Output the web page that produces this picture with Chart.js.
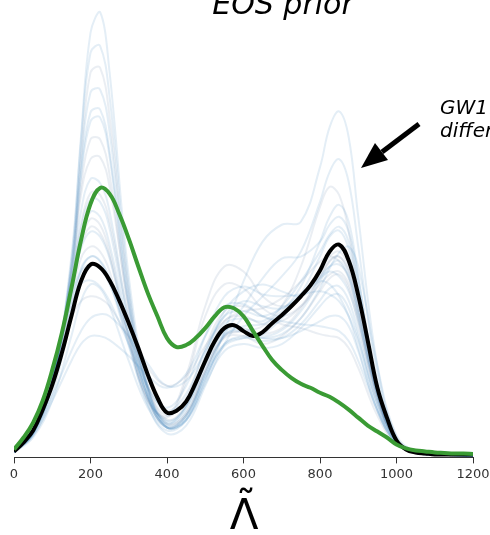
<!DOCTYPE html>
<html>
<head>
<meta charset="utf-8">
<script src="https://cdn.jsdelivr.net/npm/chart.js@4/dist/chart.umd.min.js"></script>
<style>
  html, body { margin: 0; padding: 0; background: #fff; }
  canvas { display: block; }
</style>
</head>
<body>
<canvas id="eosPrior" width="490" height="535"></canvas>
<script>
// Lambda-tilde grid for the two highlighted curves (step 25)
const lambdaFine = [0, 25, 50, 75, 100, 125, 150, 175, 200, 225, 250, 275, 300, 325, 350, 375, 400, 425, 450, 475,
  500, 525, 550, 575, 600, 625, 650, 675, 700, 725, 750, 775, 800, 825, 850, 875, 900, 925, 950, 975,
  1000, 1025, 1050, 1075, 1100, 1125, 1150, 1175, 1200];

// density of the highlighted curves (arbitrary units)
const blackCurve = [4, 13, 25, 46, 71, 103, 140, 175, 192, 189, 176, 156, 133, 108, 81, 58, 43, 45, 54, 73,
  95, 115, 128, 131, 125, 120, 124, 133, 141, 150, 160, 171, 186, 205, 212, 196, 161, 115, 68, 38,
  15, 6, 3, 2, 1, 1, 1, 1, 1];
const greenCurve = [6, 18, 33, 55, 86, 123, 168, 216, 253, 269, 263, 243, 218, 190, 163, 140, 118, 109, 111, 118,
  128, 140, 149, 148, 140, 125, 110, 96, 86, 78, 72, 68, 63, 59, 53, 46, 38, 30, 24, 18,
  11, 7, 5, 4, 3, 2.5, 2, 2, 1.5];

// grid for the faint prior draws
const lambdaGrid = [0, 50, 100, 150, 175, 200, 225, 250, 300, 350, 400, 450, 500, 550, 600, 650, 700, 750,
  800, 825, 850, 875, 900, 950, 1000, 1050, 1100, 1200];

// individual EOS draws
const draw01 = [3, 22, 72, 200, 320, 425, 446, 385, 180, 70, 28, 35, 72, 105, 112, 108, 112, 128, 150, 160, 162, 148, 118, 48, 12, 3, 1, 0];
const draw02 = [3, 22, 74, 195, 315, 405, 412, 360, 170, 66, 30, 40, 80, 112, 118, 115, 118, 132, 156, 168, 170, 156, 124, 52, 13, 3, 1, 0];
const draw03 = [3, 23, 75, 190, 300, 385, 390, 340, 165, 68, 32, 42, 85, 118, 120, 112, 120, 138, 165, 178, 182, 168, 132, 55, 14, 3, 1, 0];
const draw04 = [4, 24, 76, 185, 285, 345, 348, 305, 155, 66, 34, 48, 92, 125, 128, 120, 126, 145, 175, 190, 196, 180, 142, 60, 14, 3, 1, 0];
const draw05 = [3, 22, 72, 180, 280, 336, 340, 300, 150, 62, 28, 36, 78, 110, 118, 122, 138, 162, 200, 220, 226, 208, 160, 64, 15, 3, 1, 0];
const draw06 = [4, 25, 78, 178, 262, 298, 300, 270, 150, 70, 36, 50, 95, 135, 140, 132, 135, 150, 178, 195, 200, 186, 150, 64, 15, 3, 1, 0];
const draw07 = [3, 18, 55, 120, 155, 172, 168, 150, 95, 48, 25, 35, 75, 125, 175, 215, 232, 235, 290, 330, 346, 320, 240, 90, 18, 4, 1, 0];
const draw08 = [3, 20, 62, 140, 185, 200, 195, 175, 110, 50, 22, 30, 70, 112, 140, 160, 180, 205, 255, 285, 298, 275, 210, 80, 16, 3, 1, 0];
const draw09 = [4, 24, 75, 165, 215, 238, 232, 205, 120, 55, 40, 80, 150, 190, 185, 160, 150, 160, 185, 200, 205, 190, 150, 60, 14, 3, 1, 0];
const draw10 = [4, 24, 76, 170, 228, 258, 255, 228, 130, 58, 28, 38, 82, 120, 130, 132, 145, 170, 215, 240, 252, 235, 180, 70, 15, 3, 1, 0];
const draw11 = [4, 25, 78, 165, 208, 225, 220, 198, 120, 60, 35, 50, 95, 132, 138, 135, 150, 175, 205, 222, 230, 215, 170, 68, 15, 3, 1, 0];
const draw12 = [4, 24, 74, 158, 198, 210, 205, 185, 115, 55, 30, 42, 85, 120, 125, 130, 150, 190, 250, 270, 262, 225, 165, 62, 14, 3, 1, 0];
const draw13 = [5, 28, 82, 158, 185, 192, 188, 172, 122, 70, 45, 62, 105, 140, 145, 140, 148, 162, 178, 185, 180, 165, 135, 60, 14, 3, 1, 0];
const draw14 = [5, 28, 80, 150, 172, 176, 170, 155, 112, 68, 48, 70, 120, 160, 170, 162, 160, 162, 165, 162, 155, 140, 115, 52, 13, 3, 1, 0];
const draw15 = [5, 28, 76, 138, 155, 160, 158, 150, 118, 88, 70, 80, 110, 135, 145, 148, 158, 175, 195, 200, 195, 178, 140, 58, 14, 3, 1, 0];
const draw16 = [4, 22, 60, 105, 125, 138, 142, 140, 120, 92, 70, 75, 105, 140, 155, 150, 148, 160, 180, 190, 192, 180, 145, 62, 15, 3, 1, 0];
const draw17 = [4, 20, 55, 95, 112, 120, 120, 116, 100, 80, 68, 82, 120, 150, 152, 140, 135, 132, 130, 128, 125, 115, 95, 45, 12, 3, 1, 0];
const draw18 = [4, 24, 76, 182, 270, 318, 318, 282, 145, 60, 28, 40, 85, 120, 125, 122, 128, 148, 180, 196, 200, 185, 148, 62, 14, 3, 1, 0];
const draw19 = [4, 24, 76, 175, 245, 278, 274, 245, 135, 58, 28, 36, 76, 112, 120, 118, 122, 138, 168, 188, 204, 210, 190, 90, 20, 4, 1, 0];
const draw20 = [4, 24, 76, 168, 220, 245, 240, 212, 125, 58, 32, 50, 100, 145, 165, 172, 165, 160, 175, 172, 160, 140, 108, 45, 12, 3, 1, 0];
const draw21 = [4, 25, 78, 172, 232, 264, 262, 235, 138, 68, 40, 58, 108, 145, 150, 140, 132, 128, 122, 120, 118, 108, 88, 40, 11, 3, 1, 0];
const draw22 = [3, 22, 74, 190, 295, 365, 368, 325, 160, 65, 32, 45, 90, 122, 125, 118, 118, 125, 135, 140, 140, 130, 105, 45, 12, 3, 1, 0];
const draw23 = [4, 24, 72, 150, 188, 200, 196, 178, 112, 52, 28, 40, 82, 122, 150, 178, 198, 200, 215, 232, 240, 225, 178, 70, 15, 3, 1, 0];
const draw24 = [4, 25, 76, 162, 210, 230, 224, 200, 118, 56, 38, 75, 140, 172, 168, 148, 140, 150, 172, 182, 185, 172, 138, 56, 13, 3, 1, 0];

const priorDraws = [draw01, draw02, draw03, draw04, draw05, draw06, draw07, draw08, draw09, draw10, draw11, draw12,
  draw13, draw14, draw15, draw16, draw17, draw18, draw19, draw20, draw21, draw22, draw23, draw24];

const xTicks = [0, 200, 400, 600, 800, 1000, 1200];

function toPoints(xs, ys) {
  return xs.map((x, i) => ({ x: x, y: ys[i] }));
}

const datasets = [];
datasets.push({
  label: "green",
  data: toPoints(lambdaFine, greenCurve),
  borderColor: "#3a9b34",
  borderWidth: 4,
  order: 0
});
datasets.push({
  label: "black",
  data: toPoints(lambdaFine, blackCurve),
  borderColor: "#000000",
  borderWidth: 4,
  order: 1
});
priorDraws.forEach((d, i) => {
  datasets.push({
    label: "draw " + (i + 1),
    data: toPoints(lambdaGrid, d),
    borderColor: i % 3 === 2 ? "rgba(90,125,160,0.13)" : "rgba(31,119,180,0.12)",
    borderWidth: 2,
    order: 2
  });
});

// handwritten title, arrow annotation and the x label
const annotations = {
  id: "annotations",
  afterDraw(chart) {
    const ctx = chart.ctx;
    ctx.save();
    ctx.fillStyle = "#000";
    ctx.textAlign = "center";
    ctx.textBaseline = "alphabetic";
    ctx.font = 'italic 30px "DejaVu Sans"';
    ctx.fillText("EOS prior", 283, 14);

    ctx.textAlign = "left";
    ctx.font = 'italic 20px "DejaVu Sans"';
    ctx.fillText("GW170817", 440, 114);
    ctx.fillText("different", 440, 137);

    // arrow
    ctx.strokeStyle = "#000";
    ctx.lineWidth = 5;
    ctx.beginPath();
    ctx.moveTo(419, 124);
    ctx.lineTo(382, 152);
    ctx.stroke();
    ctx.beginPath();
    ctx.moveTo(361, 168);
    ctx.lineTo(388, 160);
    ctx.lineTo(375, 143);
    ctx.closePath();
    ctx.fill();

    // x label: Lambda with a tilde on top
    ctx.textAlign = "center";
    ctx.font = '42px "DejaVu Sans"';
    ctx.fillText("\u039B", 244, 529);
    ctx.font = '40px "DejaVu Sans"';
    ctx.fillText("\u02DC", 246, 519);
    ctx.restore();
  }
};

new Chart(document.getElementById("eosPrior").getContext("2d"), {
  type: "line",
  data: { datasets: datasets },
  options: {
    responsive: false,
    animation: false,
    devicePixelRatio: 1,
    layout: { padding: { left: 14, right: 17, top: 10, bottom: 50 } },
    elements: {
      point: { radius: 0 },
      line: { tension: 0.4, fill: false }
    },
    plugins: {
      legend: { display: false },
      tooltip: { enabled: false }
    },
    scales: {
      x: {
        type: "linear",
        min: 0,
        max: 1200,
        afterBuildTicks: (axis) => { axis.ticks = xTicks.map(v => ({ value: v })); },
        afterFit: (axis) => { axis.paddingLeft = 0; axis.paddingRight = 0; },
        ticks: {
          color: "#333",
          font: { family: "DejaVu Sans", size: 13 },
          padding: 3,
          maxRotation: 0,
          callback: (v) => String(v)
        },
        grid: { display: true, drawOnChartArea: false, drawTicks: true, tickLength: 6, color: "#333" },
        border: { display: true, color: "#333", width: 1 }
      },
      y: {
        display: false,
        min: -2,
        max: 448
      }
    }
  },
  plugins: [annotations]
});
</script>
</body>
</html>
